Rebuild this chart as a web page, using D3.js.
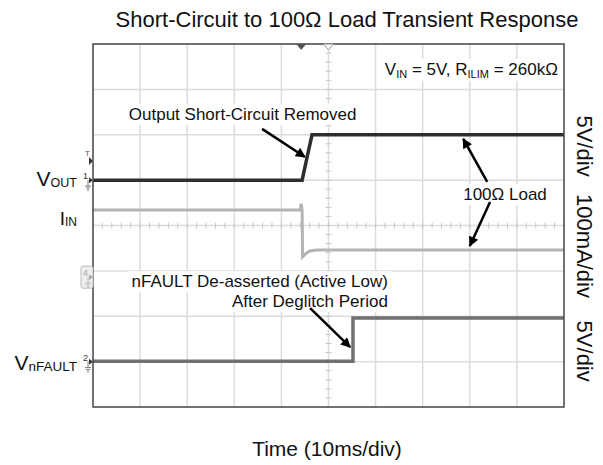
<!DOCTYPE html>
<html>
<head>
<meta charset="utf-8">
<script src="https://cdn.jsdelivr.net/npm/d3@7"></script>
<style>
  body { margin: 0; background: #fff; }
  svg text { font-family: "Liberation Sans", Arial, sans-serif; }
</style>
</head>
<body>
<div id="chart"></div>
<script>
// time in ms (10 ms/div), channel values in physical units
const timeTicks = [0, 10, 20, 30, 40, 50, 60, 70, 80, 90, 100];
const divTicks = [0, 1, 2, 3, 4, 5, 6, 7, 8];

const voutTime = [0, 44.4, 45.4, 46.5, 100];
const voutVolts = [0, 0, 2.4, 5, 5];

const iinTime = [0, 44.0, 44.2, 44.4, 44.5, 45.2, 46.0, 47.5, 100];
const iinMilliamps = [148, 148, 162, 148, 45, 52, 58, 60, 60];

const faultTime = [0, 55.2, 55.2, 100];
const faultVolts = [0.05, 0.05, 4.8, 4.8];

// scope channel settings: ground offset (div) and units per div
const voutOffset = 5.0, voutPerDiv = 5;
const iinOffset = 2.86, iinPerDiv = 100;
const faultOffset = 1.0, faultPerDiv = 5;

// annotations in (ms, div)
const notes = [
  { text: 'Output Short-Circuit Removed', t: 7.6, d: 6.33, anchor: 'start' },
  { text: '100Ω Load', t: 78.6, d: 4.56, anchor: 'start' },
  { text: 'nFAULT De-asserted (Active Low)', t: 62.6, d: 2.64, anchor: 'end' },
  { text: 'After Deglitch Period', t: 62.6, d: 2.20, anchor: 'end' }
];
const arrows = [
  { t0: 35.9, d0: 6.13, t1: 45.0, d1: 5.51 },
  { t0: 83.7, d0: 4.96, t1: 78.6, d1: 5.91 },
  { t0: 84.3, d0: 4.52, t1: 80.0, d1: 3.55 },
  { t0: 46.1, d0: 2.18, t1: 54.6, d1: 1.32 }
];

// right-hand scale labels, centred on (div)
const scaleLabels = ['5V/div', '100mA/div', '5V/div'];
const scaleCentres = [5.75, 3.55, 1.23];

const W = 603, H = 465;
const pLeft = 93, pRight = 564, pTop = 44, pBottom = 407;

const svg = d3.select('#chart').append('svg')
  .attr('width', W).attr('height', H);

const x = d3.scaleLinear().domain([0, 100]).range([pLeft, pRight]);
const y = d3.scaleLinear().domain([0, 8]).range([pBottom, pTop]);

// grid
const grid = svg.append('g');
grid.selectAll('.vg').data(timeTicks.slice(1, -1)).join('line')
  .attr('x1', d => x(d)).attr('x2', d => x(d))
  .attr('y1', pTop).attr('y2', pBottom)
  .attr('stroke', '#dcdcdc').attr('stroke-width', 1.5);
grid.selectAll('.hg').data(divTicks.slice(1, -1)).join('line')
  .attr('y1', d => y(d)).attr('y2', d => y(d))
  .attr('x1', pLeft).attr('x2', pRight)
  .attr('stroke', '#dcdcdc').attr('stroke-width', 1.5);

// minor ticks on the centre cross
const minorT = d3.range(0, 100.01, 2);
const minorD = d3.range(0, 8.01, 0.2);
grid.selectAll('.mt').data(minorT).join('line')
  .attr('x1', d => x(d)).attr('x2', d => x(d))
  .attr('y1', y(4) - 3).attr('y2', y(4) + 3)
  .attr('stroke', '#c8c8c8').attr('stroke-width', 1);
grid.selectAll('.md').data(minorD).join('line')
  .attr('y1', d => y(d)).attr('y2', d => y(d))
  .attr('x1', x(50) - 3).attr('x2', x(50) + 3)
  .attr('stroke', '#c8c8c8').attr('stroke-width', 1);

// annotation text with white boxes (drawn over grid)
const noteG = svg.append('g');
notes.forEach(n => {
  const t = noteG.append('text')
    .attr('x', x(n.t)).attr('y', y(n.d))
    .attr('text-anchor', n.anchor)
    .attr('font-size', 17).attr('fill', '#111')
    .text(n.text);
  const b = t.node().getBBox();
  noteG.insert('rect', 'text')
    .attr('x', b.x - 3).attr('y', b.y - 1)
    .attr('width', b.width + 6).attr('height', b.height + 2)
    .attr('fill', '#fff');
});

// VIN / RILIM box
const vin = noteG.append('text')
  .attr('x', x(98.7)).attr('y', y(7.32))
  .attr('text-anchor', 'end').attr('font-size', 17).attr('fill', '#111');
vin.append('tspan').text('V');
vin.append('tspan').attr('font-size', 11).attr('dy', 3).text('IN');
vin.append('tspan').attr('dy', -3).text(' = 5V, R');
vin.append('tspan').attr('font-size', 11).attr('dy', 3).text('ILIM');
vin.append('tspan').attr('dy', -3).text(' = 260kΩ');
const vb = vin.node().getBBox();
noteG.insert('rect', 'text')
  .attr('x', vb.x - 3).attr('y', vb.y - 1)
  .attr('width', vb.width + 6).attr('height', vb.height + 2)
  .attr('fill', '#fff');

// traces
const line = (off, per) => d3.line()
  .x(d => x(d[0]))
  .y(d => y(off + d[1] / per));

svg.append('path')
  .datum(iinTime.map((t, i) => [t, iinMilliamps[i]]))
  .attr('d', line(iinOffset, iinPerDiv))
  .attr('fill', 'none').attr('stroke', '#b4b4b4').attr('stroke-width', 3);

svg.append('path')
  .datum(faultTime.map((t, i) => [t, faultVolts[i]]))
  .attr('d', line(faultOffset, faultPerDiv))
  .attr('fill', 'none').attr('stroke', '#707070').attr('stroke-width', 3.5);

svg.append('path')
  .datum(voutTime.map((t, i) => [t, voutVolts[i]]))
  .attr('d', line(voutOffset, voutPerDiv))
  .attr('fill', 'none').attr('stroke', '#2e2e2e').attr('stroke-width', 3.5);

// arrows
svg.append('defs').append('marker')
  .attr('id', 'ah').attr('viewBox', '0 0 10 10')
  .attr('refX', 9).attr('refY', 5)
  .attr('markerWidth', 5.5).attr('markerHeight', 4)
  .attr('markerUnits', 'strokeWidth')
  .attr('orient', 'auto')
  .append('path').attr('d', 'M0,0L10,5L0,10Z').attr('fill', '#000');

svg.selectAll('.arrow').data(arrows).join('line')
  .attr('x1', d => x(d.t0)).attr('y1', d => y(d.d0))
  .attr('x2', d => x(d.t1)).attr('y2', d => y(d.d1))
  .attr('stroke', '#000').attr('stroke-width', 2.5)
  .attr('marker-end', 'url(#ah)');

// plot border
svg.append('rect')
  .attr('x', pLeft).attr('y', pTop)
  .attr('width', pRight - pLeft).attr('height', pBottom - pTop)
  .attr('fill', 'none').attr('stroke', '#444').attr('stroke-width', 1.5);

// scope markers: top trigger / centre
svg.append('path')
  .attr('d', `M${x(44.2) - 5},${pTop}L${x(44.2) + 5},${pTop}L${x(44.2)},${pTop + 6}Z`)
  .attr('fill', '#555');
svg.append('path')
  .attr('d', `M${x(50) - 5},${pTop}L${x(50) + 5},${pTop}L${x(50)},${pTop + 6}Z`)
  .attr('fill', '#fff').attr('stroke', '#999').attr('stroke-width', 1);

// left channel markers
function groundMark(d, label, boxed) {
  const yy = y(d);
  const g = svg.append('g').attr('transform', `translate(${pLeft},${yy})`);
  if (boxed) {
    g.append('rect').attr('x', -12).attr('y', -11).attr('width', 12).attr('height', 22)
      .attr('fill', '#eee').attr('stroke', '#bbb').attr('rx', 2);
  }
  g.append('text').attr('x', -10).attr('y', -1).attr('font-size', 9)
    .attr('fill', boxed ? '#aaa' : '#333').text(label);
  g.append('path').attr('d', 'M-4,-3L0,0L-4,3Z').attr('fill', boxed ? '#aaa' : '#333');
  g.append('path').attr('d', 'M-5,0V6M-8,6H-2M-7,8H-3M-6,10H-4')
    .attr('stroke', boxed ? '#aaa' : '#555').attr('stroke-width', 0.8).attr('fill', 'none');
}
groundMark(voutOffset, '1', false);
groundMark(iinOffset, '4', true);
groundMark(faultOffset, '2', false);

// trigger level marker
const trig = svg.append('g').attr('transform', `translate(${pLeft},${y(5.42)})`);
trig.append('text').attr('x', -8).attr('y', -5).attr('font-size', 8).attr('fill', '#555').text('T');
trig.append('path').attr('d', 'M-4,-4L0,0L-4,4Z').attr('fill', '#333');

// channel labels
function chLabel(d, main, sub, size, subSize, dy) {
  const t = svg.append('text')
    .attr('x', 77).attr('y', y(d) + dy)
    .attr('text-anchor', 'end').attr('font-size', size).attr('fill', '#111');
  t.append('tspan').text(main);
  t.append('tspan').attr('font-size', subSize).attr('dy', 1).text(sub);
}
chLabel(voutOffset, 'V', 'OUT', 21, 12.5, 6);
chLabel(iinOffset + 1.48, 'I', 'IN', 19, 12, 15);
chLabel(faultOffset, 'V', 'nFAULT', 21, 13.5, 8);

// right-hand scale labels
svg.selectAll('.sc').data(scaleLabels).join('text')
  .attr('transform', (d, i) => `translate(577,${y(scaleCentres[i])}) rotate(90)`)
  .attr('text-anchor', 'middle')
  .attr('font-size', 22).attr('fill', '#111')
  .text(d => d);

// title and x label
svg.append('text').attr('x', 347).attr('y', 27)
  .attr('text-anchor', 'middle').attr('font-size', 22).attr('fill', '#111')
  .text('Short-Circuit to 100Ω Load Transient Response');
svg.append('text').attr('x', 327).attr('y', 456)
  .attr('text-anchor', 'middle').attr('font-size', 21).attr('fill', '#111')
  .text('Time (10ms/div)');
</script>
</body>
</html>
